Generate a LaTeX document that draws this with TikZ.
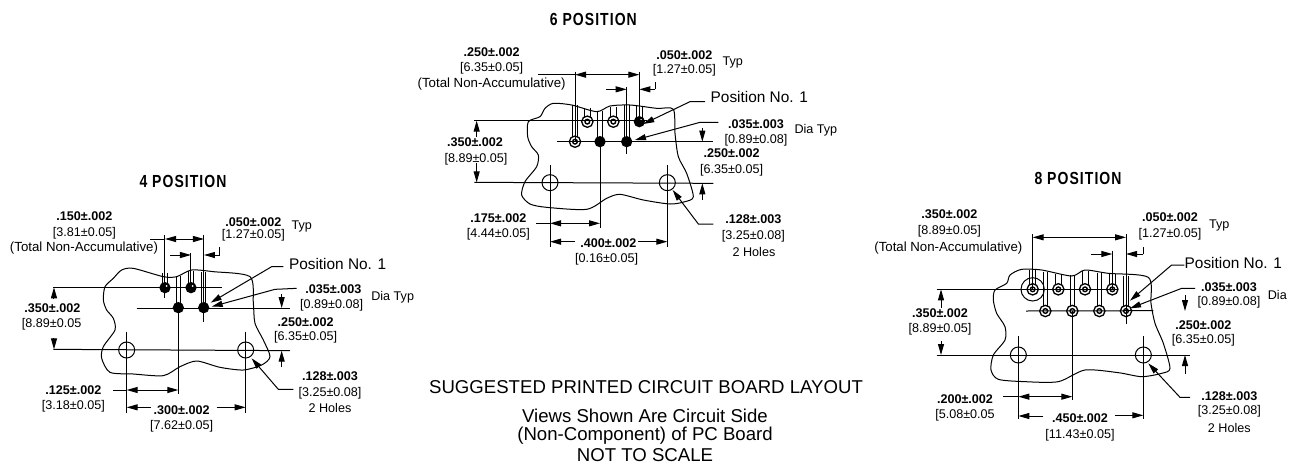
\documentclass[tikz,border=0pt]{standalone}
\usepackage{fontspec}
\setmainfont{Liberation Sans}
\newfontfamily\condfont[FakeStretch=0.8,LetterSpace=6]{Liberation Sans}
\usetikzlibrary{arrows.meta}
\tikzset{
  dimline/.style={draw=black,line width=1pt},
  onetip/.style={dimline,-{Triangle[length=11pt,width=6pt]}},
  twotips/.style={dimline,{Triangle[length=11pt,width=6pt]}-{Triangle[length=11pt,width=6pt]}},
  board/.style={draw=black,line width=1pt},
  bd/.style={inner sep=0pt,font=\fontsize{12.6}{14}\selectfont\bfseries},
  rg/.style={inner sep=0pt,font=\fontsize{12.6}{14}\selectfont},
  longlab/.style={inner sep=0pt,font=\fontsize{13.25}{15}\selectfont},
  poslab/.style={inner sep=0pt,font=\fontsize{15.4}{18}\selectfont},
  foot/.style={inner sep=0pt,anchor=base,font=\fontsize{18.6}{21}\selectfont},
  ttl/.style={inner sep=0pt,font=\fontsize{17.5}{20}\selectfont\condfont\bfseries},
}
% trace and solid pad: x, pad y, top y, half-width
\newcommand{\solidtrace}[4]{%
  \draw[board] ({#1-#4},#3) -- ({#1-#4},{#2-10});
  \draw[board] ({#1+#4},#3) -- ({#1+#4},{#2-10});
  \fill[black] (#1,#2) circle (17);
}
% trace and solid pad with a small white centre
\newcommand{\dottrace}[4]{%
  \draw[board] ({#1-#4},#3) -- ({#1-#4},{#2-10});
  \draw[board] ({#1+#4},#3) -- ({#1+#4},{#2-10});
  \draw[draw=black,line width=1.2pt,fill=black] (#1,#2) circle (15);
  \fill[white] ({#1+5},{#2-5}) circle (3);
}
% trace and open ring pad
\newcommand{\ringtrace}[4]{%
  \draw[board] ({#1-#4},#3) -- ({#1-#4},{#2-12});
  \draw[board] ({#1+#4},#3) -- ({#1+#4},{#2-12});
  \draw[draw=black,line width=1.3pt,fill=white] (#1,#2) circle (17);
  \draw[draw=black,line width=1.4pt,fill=white] (#1,#2) circle (7);
}
\begin{document}
\begin{tikzpicture}[x=1pt,y=-1pt]
\useasboundingbox (0,0) rectangle (1295,464);
\fill[white] (0,0) rectangle (1295,464);

% ---------- 4 POSITION ----------
\begin{scope}[x=0.33333pt,y=-0.33333pt,shift={(0pt,-170pt)}]
\node[ttl] (ta) at (549,35) {4 POSITION};
\draw[board] plot[smooth cycle,tension=0.45] coordinates {(315,350)(340,325)(365,300)(400,295)(490,320)(530,320)(575,300)(640,305)(750,320)(760,400)(765,460)(790,510)(810,560)(785,585)(730,600)(660,592)(590,573)(540,590)(490,617)(400,612)(330,607)(305,565)(310,530)(345,480)(340,445)(320,420)(310,390)};
\dottrace{495}{353}{310}{7}
\dottrace{573}{353}{302}{7}
\solidtrace{535}{413}{318}{6}
\solidtrace{611}{413}{306}{6}
\draw[dimline] (160,352)--(665,352);
\draw[dimline] (410,414)--(870,414);
\draw[dimline] (160,538)--(870,542);
\draw[dimline] (495,195)--(495,385);
\draw[dimline] (612,195)--(612,455);
\draw[dimline] (573,250)--(573,353);
\draw[dimline] (535,414)--(535,672);
\draw[dimline] (380,485)--(380,730);
\draw[dimline] (737,485)--(737,730);
\draw[board] (380,540) circle (24);
\draw[board] (737,540) circle (24);
\draw[dimline] (450,207)--(495,207);
\draw[twotips] (495,207)--(612,207);
\draw[onetip] (510,255)--(573,255);
\draw[onetip] (660,255)--(612,255);
\draw[dimline] (660,255)--(660,232);
\draw[onetip] (162,385)--(162,352);
\draw[onetip] (162,505)--(162,538);
\draw[onetip] (845,372)--(845,414);
\draw[onetip] (845,590)--(845,542);
\draw[onetip] (850,290)--(815,290)--(632,398);
\draw[onetip] (890,355)--(825,358)--(635,410);
\draw[onetip] (880,658)--(835,658)--(755,565);
\draw[dimline] (340,660)--(380,660);
\draw[twotips] (380,660)--(535,660);
\draw[onetip] (452,712)--(380,712);
\draw[onetip] (650,712)--(737,712);
\node[bd] (a1) at (253,138) {.150±.002};
\node[rg] (a2) at (253,190) {[3.81±0.05]};
\node[longlab] (a3) at (252,235) {(Total Non-Accumulative)};
\node[bd] (a4) at (760,157) {.050±.002};
\node[rg] (a5) at (760,197) {[1.27±0.05]};
\node[rg] (a6) at (905,170) {Typ};
\node[poslab] (a7) at (1013,283) {Position No. 1};
\node[bd] (a8) at (1000,357) {.035±.003};
\node[rg] (a9) at (995,405) {[0.89±0.08]};
\node[rg] (a10) at (1178,382) {Dia Typ};
\node[bd] (a11) at (917,455) {.250±.002};
\node[rg] (a12) at (917,503) {[6.35±0.05]};
\node[bd] (a13) at (157,415) {.350±.002};
\node[rg] (a14) at (155,463) {[8.89±0.05};
\node[bd] (a15) at (990,620) {.128±.003};
\node[rg] (a16) at (990,670) {[3.25±0.08]};
\node[rg] (a17) at (990,715) {2 Holes};
\node[bd] (a18) at (220,660) {.125±.002};
\node[rg] (a19) at (220,708) {[3.18±0.05]};
\node[bd] (a20) at (545,720) {.300±.002};
\node[rg] (a21) at (545,770) {[7.62±0.05]};
\end{scope}

% ---------- 6 POSITION ----------
\begin{scope}[x=0.33333pt,y=-0.33333pt,shift={(380pt,0pt)}]
\node[ttl] (tb) at (640,57) {6 POSITION};
\draw[board] plot[smooth cycle,tension=0.45] coordinates {(445,365)(480,350)(495,325)(520,310)(575,315)(650,335)(690,318)(750,315)(830,325)(880,328)(885,400)(895,470)(920,520)(940,590)(915,605)(870,612)(790,600)(720,583)(680,595)(620,628)(500,622)(450,612)(425,585)(435,545)(470,500)(475,465)(455,440)(443,410)};
\ringtrace{622}{365}{325}{9}
\ringtrace{700}{365}{322}{9}
\dottrace{778}{365}{318}{9}
\ringtrace{585}{425}{315}{7}
\solidtrace{660}{425}{332}{7}
\solidtrace{740}{425}{316}{7}
\draw[dimline] (283,362)--(800,362);
\draw[dimline] (532,425)--(1000,425);
\draw[dimline] (283,547)--(1000,550);
\draw[dimline] (585,215)--(585,425);
\draw[dimline] (778,215)--(778,365);
\draw[dimline] (740,262)--(740,462);
\draw[dimline] (660,425)--(660,685);
\draw[dimline] (510,495)--(510,740);
\draw[dimline] (862,495)--(862,740);
\draw[board] (510,548) circle (24);
\draw[board] (862,548) circle (24);
\draw[dimline] (475,224)--(585,224);
\draw[twotips] (585,224)--(778,224);
\draw[onetip] (678,268)--(740,268);
\draw[onetip] (825,268)--(778,268);
\draw[dimline] (825,268)--(825,245);
\draw[onetip] (290,410)--(290,362);
\draw[onetip] (290,490)--(290,547);
\draw[onetip] (967,385)--(967,425);
\draw[onetip] (967,600)--(967,550);
\draw[onetip] (975,305)--(930,305)--(790,372);
\draw[onetip] (1015,367)--(960,367)--(765,420);
\draw[onetip] (1000,672)--(955,672)--(878,570);
\draw[dimline] (468,670)--(510,670);
\draw[twotips] (510,670)--(660,670);
\draw[onetip] (585,725)--(510,725);
\draw[onetip] (775,725)--(862,725);
\node[bd] (b1) at (335,155) {.250±.002};
\node[rg] (b2) at (335,205) {[6.35±0.05]};
\node[longlab] (b3) at (335,253) {(Total Non-Accumulative)};
\node[bd] (b4) at (913,165) {.050±.002};
\node[rg] (b5) at (913,212) {[1.27±0.05]};
\node[rg] (b6) at (1058,187) {Typ};
\node[poslab] (b7) at (1138,292) {Position No. 1};
\node[bd] (b8) at (1128,372) {.035±.003};
\node[rg] (b9) at (1128,420) {[0.89±0.08]};
\node[rg,anchor=west] (b10) at (1243,392) {Dia Typ};
\node[bd] (b11) at (1055,460) {.250±.002};
\node[rg] (b12) at (1055,510) {[6.35±0.05]};
\node[bd] (b13) at (285,428) {.350±.002};
\node[rg] (b14) at (288,478) {[8.89±0.05]};
\node[bd] (b15) at (1120,657) {.128±.003};
\node[rg] (b16) at (1120,708) {[3.25±0.08]};
\node[rg] (b17) at (1122,755) {2 Holes};
\node[bd] (b18) at (355,655) {.175±.002};
\node[rg] (b19) at (355,703) {[4.44±0.05]};
\node[bd] (b20) at (685,730) {.400±.002};
\node[rg] (b21) at (680,778) {[0.16±0.05]};
\end{scope}

% ---------- 8 POSITION ----------
\begin{scope}[x=0.33333pt,y=-0.33333pt,shift={(865pt,-180pt)}]
\node[ttl] (tc) at (639,-6) {8 POSITION};
\draw[board] plot[smooth cycle,tension=0.45] coordinates {(390,330)(425,310)(435,285)(470,268)(530,270)(620,288)(660,270)(730,280)(850,292)(858,370)(870,430)(895,490)(915,565)(890,580)(830,590)(760,578)(660,570)(580,605)(480,605)(400,598)(378,570)(385,525)(420,480)(420,440)(395,400)(385,360)};
\draw[board] (503,328) circle (35);
\ringtrace{503}{328}{270}{9}
\ringtrace{580}{328}{282}{9}
\ringtrace{660}{328}{274}{9}
\ringtrace{742}{328}{282}{9}
\ringtrace{541}{393}{276}{7}
\ringtrace{622}{393}{286}{7}
\ringtrace{703}{393}{278}{7}
\ringtrace{783}{393}{288}{7}
\draw[dimline] (215,328)--(760,328);
\draw[dimline] (483,393)--(865,392);
\draw[dimline] (215,525)--(975,525);
\draw[dimline] (503,162)--(503,328);
\draw[dimline] (783,162)--(783,432);
\draw[dimline] (742,212)--(742,328);
\draw[dimline] (622,393)--(622,660);
\draw[dimline] (460,468)--(460,718);
\draw[dimline] (835,468)--(835,718);
\draw[board] (460,525) circle (24);
\draw[board] (835,525) circle (24);
\draw[twotips] (503,172)--(783,172);
\draw[onetip] (678,222)--(742,222);
\draw[onetip] (835,222)--(783,222);
\draw[dimline] (835,222)--(835,200);
\draw[onetip] (228,385)--(228,328);
\draw[onetip] (228,483)--(228,525);
\draw[onetip] (960,345)--(960,393);
\draw[onetip] (960,583)--(960,525);
\draw[onetip] (958,255)--(920,255)--(795,362);
\draw[onetip] (990,325)--(950,325)--(795,385);
\draw[onetip] (975,652)--(945,652)--(850,550);
\draw[dimline] (415,650)--(460,650);
\draw[twotips] (460,650)--(622,650);
\draw[onetip] (535,708)--(460,708);
\draw[onetip] (750,706)--(835,706);
\node[bd] (c1) at (253,103) {.350±.002};
\node[rg] (c2) at (253,155) {[8.89±0.05]};
\node[longlab] (c3) at (250,203) {(Total Non-Accumulative)};
\node[bd] (c4) at (915,112) {.050±.002};
\node[rg] (c5) at (915,162) {[1.27±0.05]};
\node[rg] (c6) at (1063,137) {Typ};
\node[poslab] (c7) at (1105,248) {Position No. 1};
\node[bd] (c8) at (1092,320) {.035±.003};
\node[rg] (c9) at (1092,368) {[0.89±0.08]};
\node[rg] (c10) at (1237,345) {Dia};
\node[bd] (c11) at (1015,435) {.250±.002};
\node[rg] (c12) at (1015,482) {[6.35±0.05]};
\node[bd] (c13) at (225,400) {.350±.002};
\node[rg] (c14) at (225,448) {[8.89±0.05]};
\node[bd] (c15) at (1093,648) {.128±.003};
\node[rg] (c16) at (1093,695) {[3.25±0.08]};
\node[rg] (c17) at (1093,745) {2 Holes};
\node[bd] (c18) at (300,658) {.200±.002};
\node[rg] (c19) at (300,706) {[5.08±0.05};
\node[bd] (c20) at (645,715) {.450±.002};
\node[rg] (c21) at (645,765) {[11.43±0.05]};
\end{scope}

% ---------- footer ----------
\node[foot] (f1) at (646,393) {SUGGESTED PRINTED CIRCUIT BOARD LAYOUT};
\node[foot] (f2) at (645,422) {Views Shown Are Circuit Side};
\node[foot] (f3) at (645,440) {(Non-Component) of PC Board};
\node[foot] (f4) at (645,461) {NOT TO SCALE};
\end{tikzpicture}
\end{document}
